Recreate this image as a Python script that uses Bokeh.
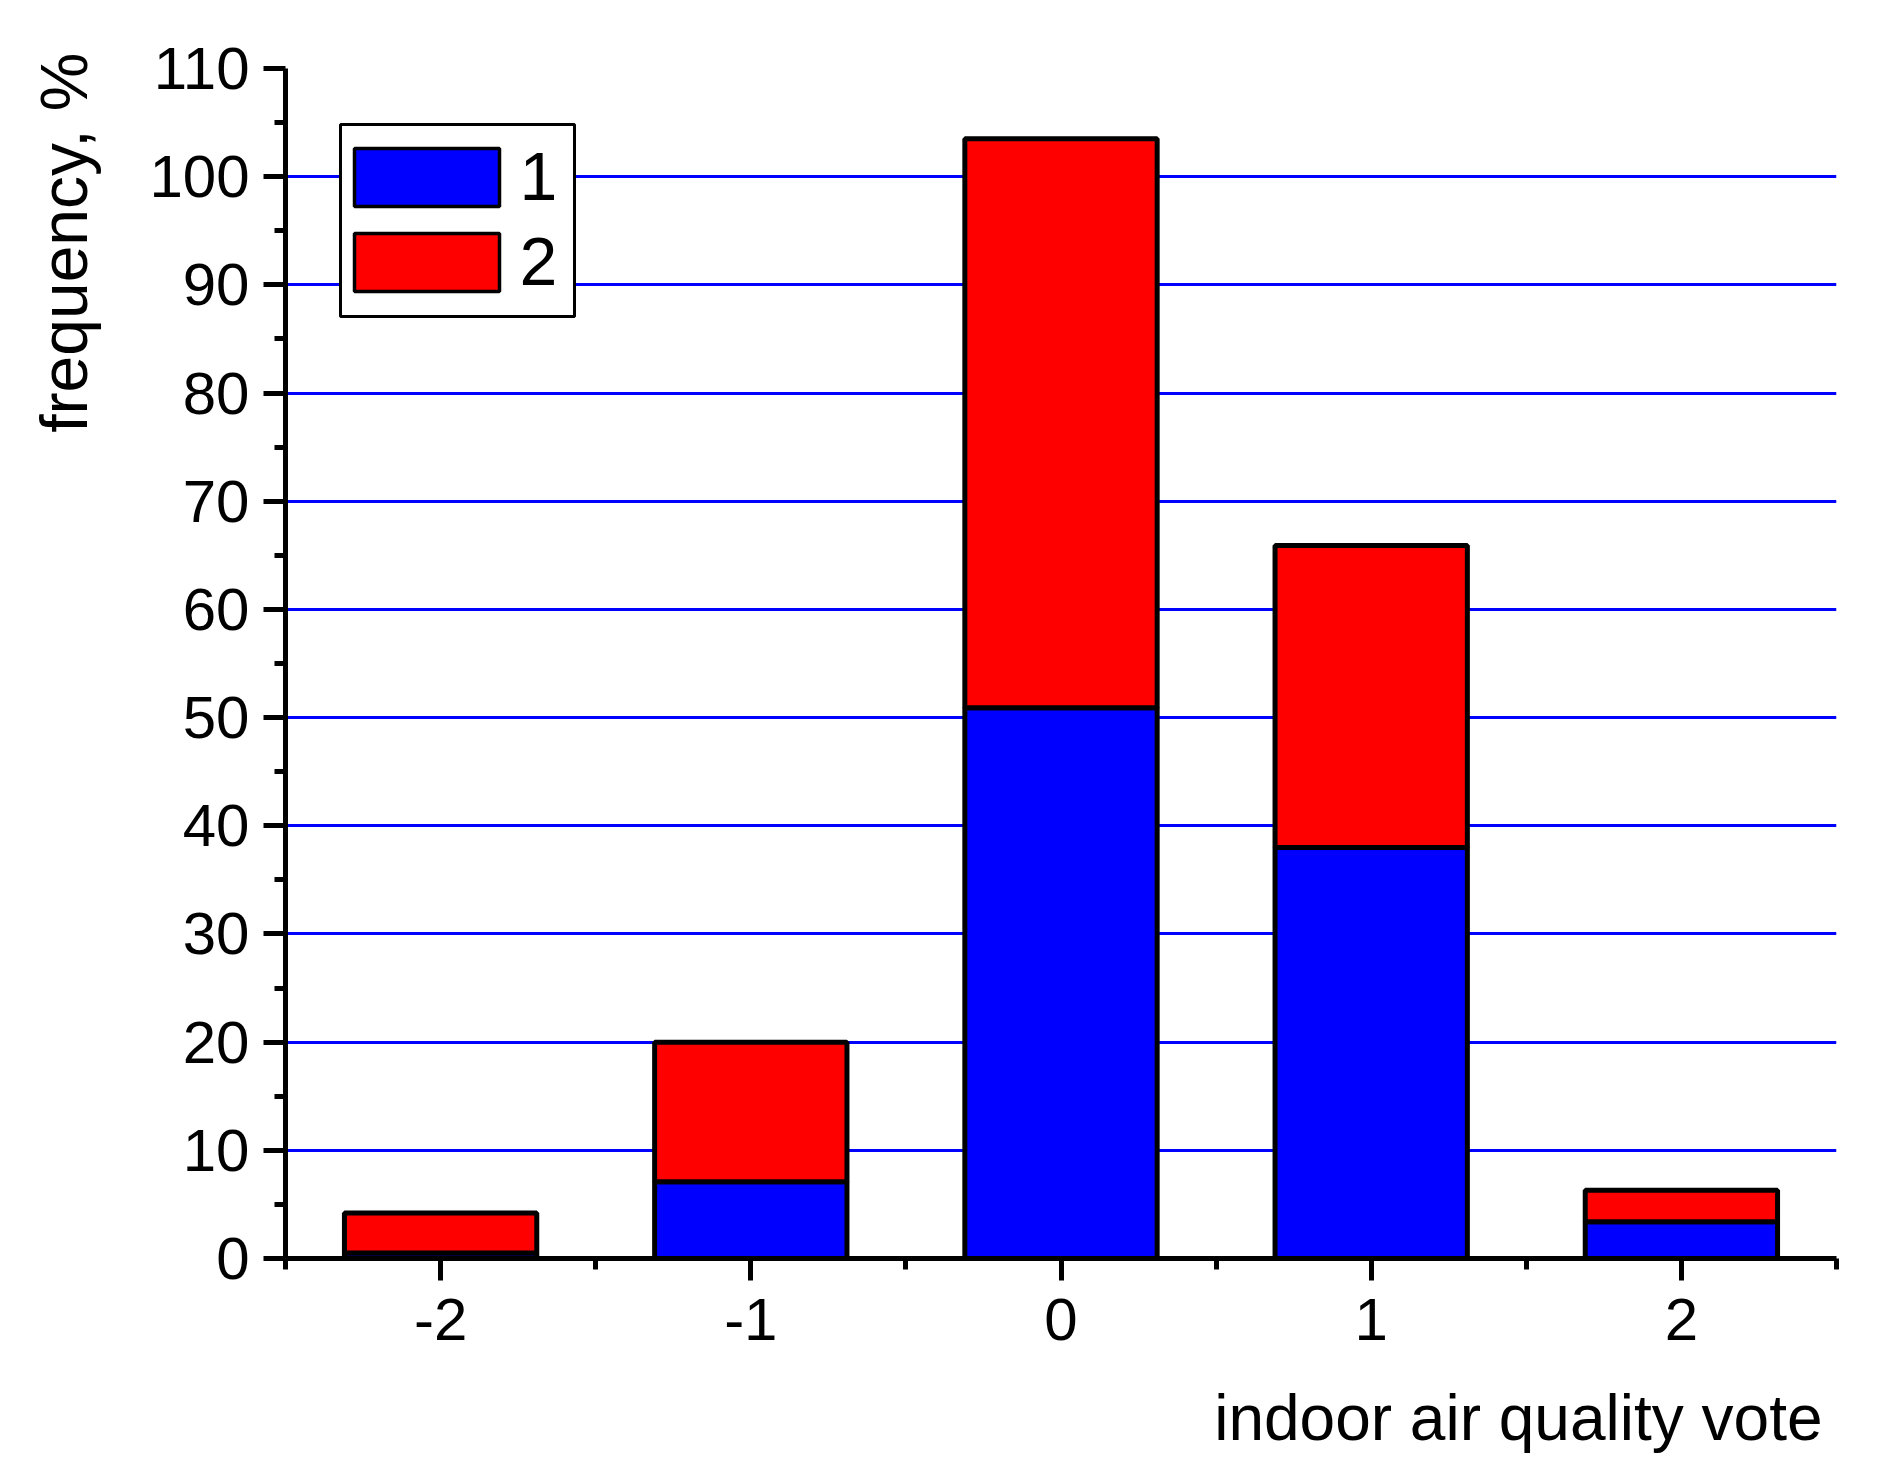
from bokeh.plotting import figure
from bokeh.models import Range1d, FixedTicker, Label, ColumnDataSource, Title, BoxAnnotation
from bokeh.embed import file_html
from bokeh.resources import INLINE

# ---- data ----
votes = [-2, -1, 0, 1, 2]
vote_labels = ["-2", "-1", "0", "1", "2"]
series1 = [0.5, 7.1, 50.9, 38.0, 3.4]     # blue, legend "1"
series2 = [3.7, 12.9, 52.6, 27.9, 2.9]    # red, legend "2"
series_names = ["1", "2"]
series_colors = ["#0000FF", "#FF0000"]
y_major = [0, 10, 20, 30, 40, 50, 60, 70, 80, 90, 100, 110]
y_minor = [5, 15, 25, 35, 45, 55, 65, 75, 85, 95, 105]
x_minor = [-2.5, -1.5, -0.5, 0.5, 1.5, 2.5]
x_title = "indoor air quality vote"
y_title = "frequency, %"

FONT = "Liberation Sans"

src = ColumnDataSource(dict(x=votes, s1=series1, s2=series2))

p = figure(width=1868, height=1476, output_backend="svg", toolbar_location=None,
           x_range=Range1d(-2.5, 2.5), y_range=Range1d(0, 110),
           min_border_left=285, min_border_right=32, min_border_top=68,
           min_border_bottom=218)
p.outline_line_color = None
p.background_fill_color = "white"
p.border_fill_color = "white"

p.vbar_stack(["s1", "s2"], x="x", width=0.62, source=src,
             fill_color=series_colors, line_color="black", line_width=5)

# grid
p.xgrid.visible = False
p.ygrid.grid_line_color = "#0000FF"
p.ygrid.grid_line_width = 3
p.ygrid.ticker = FixedTicker(ticks=y_major)

# axes
p.xaxis.ticker = FixedTicker(ticks=votes, minor_ticks=x_minor)
p.xaxis.major_label_overrides = {v: l for v, l in zip(votes, vote_labels)}
p.yaxis.ticker = FixedTicker(ticks=y_major, minor_ticks=y_minor)
for ax in (p.xaxis[0], p.yaxis[0]):
    ax.axis_line_width = 5
    ax.axis_line_color = "black"
    ax.major_tick_line_width = 5
    ax.minor_tick_line_width = 5
    ax.major_tick_line_color = "black"
    ax.minor_tick_line_color = "black"
    ax.major_tick_out = 22
    ax.major_tick_in = 0
    ax.minor_tick_out = 11
    ax.minor_tick_in = 0
    ax.major_label_text_font = FONT
    ax.major_label_text_font_size = "60px"
    ax.major_label_text_color = "black"
    # blank spacer label, only used to set the distance to the axis titles
    ax.axis_label = " "
    ax.axis_label_text_font_size = "1px"
p.xaxis.major_label_standoff = 18
p.yaxis.major_label_standoff = 14
p.xaxis.axis_label_standoff = 11
p.yaxis.axis_label_standoff = 28

# axis titles
xt = Title(text=x_title, align="right", offset=14, standoff=44,
           text_font=FONT, text_font_size="64px", text_font_style="normal",
           text_color="black")
p.add_layout(xt, "below")
yt = Title(text=y_title, align="right", offset=-16, standoff=28,
           text_font=FONT, text_font_size="66px", text_font_style="normal",
           text_color="black")
p.add_layout(yt, "left")

# legend (drawn as boxes + labels, in screen pixels relative to the frame)
p.add_layout(BoxAnnotation(left=55, right=289, top=1134, bottom=942,
                           left_units="screen", right_units="screen",
                           top_units="screen", bottom_units="screen",
                           fill_color="white", fill_alpha=1,
                           line_color="black", line_width=3, line_alpha=1))
item_tops = [1110, 1025]
for name, color, top in zip(series_names, series_colors, item_tops):
    p.add_layout(BoxAnnotation(left=69, right=214, top=top, bottom=top - 58,
                               left_units="screen", right_units="screen",
                               top_units="screen", bottom_units="screen",
                               fill_color=color, fill_alpha=1,
                               line_color="black", line_width=3.5, line_alpha=1))
    p.add_layout(Label(x=234, y=top - 28, x_units="screen", y_units="screen",
                       text=name, text_align="left", text_baseline="alphabetic",
                       text_font=FONT, text_font_size="68px", text_color="black"))

open("out.html", "w").write(file_html(p, INLINE))
